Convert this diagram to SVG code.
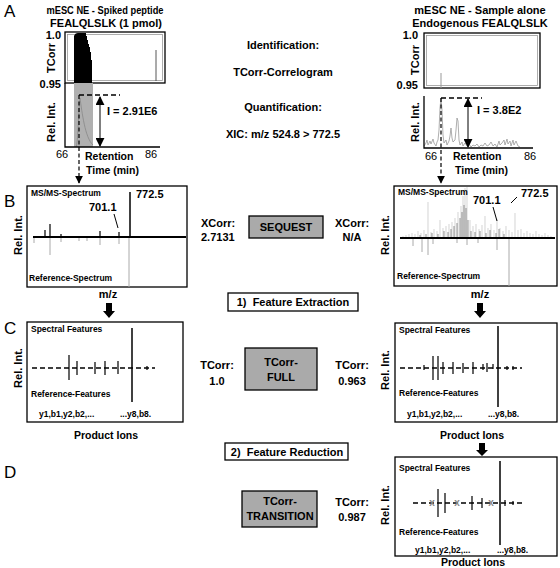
<svg xmlns="http://www.w3.org/2000/svg" width="560" height="568" viewBox="0 0 560 568">
<style>
text{font-family:"Liberation Sans",Arial,sans-serif;fill:#000}
.b11{font-size:11px;font-weight:bold}
.b10{font-size:10.5px;font-weight:bold}
.n11{font-size:11px}
.s8{font-size:8.5px;font-weight:bold}
.let{font-size:17px}
.mid{text-anchor:middle}
.end{text-anchor:end}
.pre{white-space:pre}
.box{fill:#fff;stroke:#000;stroke-width:1.3}
.gbox{fill:#aaa;stroke:#000;stroke-width:1.3}
.inner{fill:none;stroke:#999;stroke-width:0.8}
.ax{stroke:#000;stroke-width:1.3;fill:none}
.base{stroke:#000;stroke-width:2;fill:none}
.pk{stroke:#000;stroke-width:1.2;fill:none}
.ref{stroke:#aaa;stroke-width:1;fill:none}
.dash{stroke:#000;stroke-width:1.5;stroke-dasharray:5,3;fill:none}
.fdash{stroke:#000;stroke-width:1.2;stroke-dasharray:4,2.5;fill:none}
.thin{stroke:#000;stroke-width:1;fill:none}
.gx{fill:#888;font-size:10px;font-weight:bold}
</style>
<defs>
<marker id="ah" viewBox="0 0 10 10" refX="9" refY="5" markerWidth="8" markerHeight="8" markerUnits="userSpaceOnUse" orient="auto-start-reverse">
<path d="M0,0L10,5L0,10z" fill="#000"/>
</marker>
<marker id="ah2" viewBox="0 0 10 10" refX="9" refY="5" markerWidth="9" markerHeight="9" markerUnits="userSpaceOnUse" orient="auto-start-reverse">
<path d="M0,0L10,5L0,10z" fill="#000"/>
</marker>
</defs>

<g id="panel-A-left">
<text class="let" x="4" y="17">A</text>
<text class="b11 mid" x="105" y="14" textLength="117" lengthAdjust="spacingAndGlyphs">mESC NE - Spiked peptide</text>
<text class="b11 mid" x="106" y="27">FEALQLSLK (1 pmol)</text>
<rect class="box" x="65" y="32" width="100" height="51"/>
<rect class="inner" x="67.5" y="34.5" width="95" height="46"/>
<path d="M74,83L74,36Q75,33 78,33L86,33L86,36L87,36L87,40L88,40L88,44L89,44L89,47L90,47L90,52L91,52L91,60L92,60L92,83Z" fill="#000"/>
<path d="M156,50V81" stroke="#444" stroke-width="0.9"/>
<text class="b11 end" x="61" y="39">1.0</text>
<text class="b11 end" x="61" y="88">0.95</text>
<text class="b11 mid" x="55" y="58" transform="rotate(-90 55 58)">TCorr</text>
<rect x="74" y="83" width="19" height="64" fill="#b0b0b0"/>
<path d="M76,147C78,146 79,100 80,98C82,112 85,138 93,145" stroke="#888" stroke-width="0.8" fill="none"/>
<path class="ax" d="M65,83V147H160"/>
<path class="dash" d="M79,95H120"/>
<text class="b11" x="107" y="115">I = 2.91E6</text>
<text class="b11 mid" x="55" y="122" transform="rotate(-90 55 122)">Rel. Int.</text>
<text class="n11" x="56" y="158">66</text>
<text class="n11" x="145" y="158">86</text>
<text class="b10" x="85" y="160">Retention</text>
<text class="b10" x="86" y="174">Time (min)</text>
</g>

<g id="panel-A-right">
<text class="b11 mid" x="480" y="14">mESC NE - Sample alone</text>
<text class="b11 mid" x="480" y="27">Endogenous FEALQLSLK</text>
<rect class="box" x="424" y="33" width="116" height="55"/>
<rect class="inner" x="426.5" y="35.5" width="111" height="50"/>
<path d="M441,73V88" stroke="#999" stroke-width="1"/>
<text class="b11 end" x="418" y="39">1.0</text>
<text class="b11 end" x="418" y="89">0.95</text>
<text class="b11 mid" x="419" y="60" transform="rotate(-90 419 60)">TCorr</text>
<polyline fill="none" stroke="#999" stroke-width="0.8" points="424,146 426,143 427,140 428,145 430,141 431,144 433,139 434,143 436,146 437,142 438,140 439,130 440,108 441,98 442,110 443,135 444,143 446,140 447,145 449,141 450,136 451,128 452,138 453,142 455,140 456,130 457,118 458,121 459,140 460,145 462,142 463,146 465,143 467,146 469,144 471,147 473,145 475,146 477,144 479,147 481,145 483,146 485,143 487,146 489,145 491,142 493,146 495,144 497,147 499,141 500,145 502,143 504,140 505,145 507,139 508,144 510,141 511,146 513,140 514,145 516,141 518,146 520,147"/>
<path class="ax" d="M424,96V148H533"/>
<path class="dash" d="M441,98H482"/>
<text class="b11" x="477" y="114">I = 3.8E2</text>
<text class="b11 mid" x="419" y="122" transform="rotate(-90 419 122)">Rel. Int.</text>
<text class="n11" x="425" y="160">66</text>
<text class="n11" x="524" y="160">86</text>
<text class="b10" x="453" y="160">Retention</text>
<text class="b10" x="455" y="174">Time (min)</text>
</g>

<g id="center-text">
<text class="b11 mid" x="283" y="49">Identification:</text>
<text class="b11 mid" x="283" y="76">TCorr-Correlogram</text>
<text class="b11 mid" x="283" y="111">Quantification:</text>
<text class="b11 mid" x="283" y="138">XIC: m/z 524.8 &gt; 772.5</text>
</g>

<g id="panel-B-left">
<text class="let" x="4" y="207">B</text>
<rect class="box" x="27" y="186" width="160" height="101"/>
<text class="s8" x="31" y="196">MS/MS-Spectrum</text>
<text class="b11" x="136" y="198">772.5</text>
<text class="b11" x="89" y="211">701.1</text>
<path class="thin" d="M114,214L118,228"/>
<path class="ref" d="M34,237V243M50,237V255M61,237V242M79,237V241M87,237V241M100,237V245M119,237V244M129,237V287"/>
<path class="pk" d="M45,237V230M50,237V224M61,237V234M100,237V231M119,237V232"/>
<path d="M130,237V192" stroke="#000" stroke-width="1.5"/>
<path class="base" d="M33,237H186"/>
<text class="s8" x="29" y="281">Reference-Spectrum</text>
<text class="b11 mid" x="22" y="235" transform="rotate(-90 22 235)">Rel. Int.</text>
<text class="b11 mid" x="108" y="298">m/z</text>
</g>

<g id="xcorr-left">
<text class="b11" x="201" y="227">XCorr:</text>
<text class="b11" x="201" y="241">2.7131</text>
</g>

<g id="sequest">
<rect class="gbox" x="249" y="216" width="74" height="22"/>
<text class="b11 mid" x="286" y="231">SEQUEST</text>
</g>

<g id="xcorr-right">
<text class="b11 mid" x="352" y="227">XCorr:</text>
<text class="b11 mid" x="352" y="241">N/A</text>
</g>

<g id="feature-extraction">
<rect class="box" x="228" y="293" width="130" height="18"/>
<text class="b11 mid pre" x="293" y="306">1)  Feature Extraction</text>
</g>

<g id="panel-B-right">
<rect class="box" x="394" y="186" width="163" height="100"/>
<path stroke="#c2c2c2" stroke-width="0.7" fill="none" d="M403,238V236M406,238V235M409,238V234M412,238V233M415,238V234M418,238V231M421,238V233M424,238V230M428,238V202M431,238V232M434,238V229M437,238V231M440,238V220M443,238V228M446,238V226M449,238V224M452,238V222M455,238V218M458,238V212M461,238V206M463,238V196M465,238V188M467,238V187M470,238V220M473,238V226M476,238V224M479,238V229M482,238V225M485,238V216M488,238V228M491,238V224M494,238V230M497,238V219M500,238V228M503,238V231M506,238V226M509,238V230M512,238V232M515,238V213M518,238V230M521,238V229M524,238V233M527,238V231M530,238V233M533,238V234M536,238V231M539,238V234M542,238V235M545,238V233M548,238V235M551,238V236"/>
<path stroke="#666" stroke-width="0.7" fill="none" d="M420,238V235M426,238V234M432,238V233M438,238V234M444,238V231M448,238V232M451,238V229M454,238V226M457,238V223M460,238V218M462,238V212M464,238V205M466,238V208M468,238V220M471,238V231M475,238V232M480,238V231M486,238V233M490,238V230M496,238V233M499,238V229M504,238V234"/>
<path class="ref" d="M413,238V246M422,238V252M428,238V255M433,238V244M457,238V243M467,238V245M478,238V243M497,238V250M509,238V286"/>
<path class="base" d="M400,238H555"/>
<text class="s8" x="398" y="195">MS/MS-Spectrum</text>
<text class="b11" x="473" y="204">701.1</text>
<text class="b11" x="521" y="197">772.5</text>
<path class="thin" d="M493,207L497,221M511,203L517,197"/>
<text class="s8" x="397" y="279">Reference-Spectrum</text>
<text class="b11 mid" x="389" y="235" transform="rotate(-90 389 235)">Rel. Int.</text>
<text class="b11 mid" x="480" y="298">m/z</text>
</g>

<g id="panel-C-left">
<text class="let" x="4" y="334">C</text>
<rect class="box" x="27" y="322" width="156" height="100"/>
<text class="s8" x="31" y="332">Spectral Features</text>
<path class="dash" d="M32,368H155" stroke-width="1.2"/>
<path class="pk" d="M69,355V380M77,361V375M95,362V374M105,361V375M118,361V374M147,366V370"/>
<path d="M132,328V402" stroke="#000" stroke-width="1.5"/>
<text class="s8" x="31" y="397">Reference-Features</text>
<text class="s8" x="39" y="417">y1,b1,y2,b2,...</text>
<text class="s8" x="120" y="417">...y8,b8.</text>
<text class="b10 mid" x="106" y="439">Product Ions</text>
<text class="b11 mid" x="22" y="368" transform="rotate(-90 22 368)">Rel. Int.</text>
</g>

<g id="tcorr-left">
<text class="b11 mid" x="217" y="369">TCorr:</text>
<text class="b11 mid" x="217" y="385">1.0</text>
</g>

<g id="tcorr-full">
<rect class="gbox" x="245" y="348" width="72" height="42"/>
<text class="b11 mid" x="281" y="366">TCorr-</text>
<text class="b11 mid" x="281" y="381">FULL</text>
</g>

<g id="tcorr-right">
<text class="b11 mid" x="352" y="369">TCorr:</text>
<text class="b11 mid" x="352" y="385">0.963</text>
</g>

<g id="panel-C-right">
<rect class="box" x="395" y="323" width="162" height="99"/>
<text class="s8" x="399" y="333">Spectral Features</text>
<path class="dash" d="M400,368H522" stroke-width="1.2"/>
<path class="pk" d="M424,365V370M433,356V380M438,356V380M443,362V374M453,362V374M463,363V373M473,362V374M483,364V370M487,363V372M493,364V369M507,366V370M513,366V370"/>
<path d="M498,326V407" stroke="#000" stroke-width="1.5"/>
<text class="s8" x="399" y="396">Reference-Features</text>
<text class="s8" x="407" y="417">y1,b1,y2,b2,...</text>
<text class="s8" x="488" y="417">...y8,b8.</text>
<text class="b10 mid" x="472" y="439">Product Ions</text>
<text class="b11 mid" x="389" y="370" transform="rotate(-90 389 370)">Rel. Int.</text>
</g>

<g id="feature-reduction">
<rect class="box" x="225" y="443" width="123" height="17"/>
<text class="b11 mid pre" x="287" y="456">2)  Feature Reduction</text>
</g>

<g id="panel-D-left">
<text class="let" x="4" y="478">D</text>
</g>

<g id="tcorr-transition">
<rect class="gbox" x="242" y="491" width="75" height="36"/>
<text class="b11 mid" x="280" y="505">TCorr-</text>
<text class="b11 mid" x="280" y="520">TRANSITION</text>
</g>

<g id="tcorr-d">
<text class="b11 mid" x="352" y="506">TCorr:</text>
<text class="b11 mid" x="352" y="521">0.987</text>
</g>

<g id="panel-D-right">
<rect class="box" x="395" y="457" width="162" height="99"/>
<text class="s8" x="399" y="471">Spectral Features</text>
<path class="dash" d="M413,503H523" stroke-width="1.2"/>
<text class="gx mid" x="432" y="506">x</text>
<text class="gx mid" x="457" y="506">x</text>
<text class="gx mid" x="491" y="506">x</text>
<path class="pk" d="M438,489V517M445,493V513M472,496V510M482,498V508M505,500V506M513,501V505"/>
<path d="M500,461V545" stroke="#000" stroke-width="1.5"/>
<text class="s8" x="399" y="535">Reference-Features</text>
<text class="s8" x="415" y="553">y1,b1,y2,b2,...</text>
<text class="s8" x="497" y="553">...y8,b8.</text>
<text class="b10 mid" x="473" y="566">Product Ions</text>
<text class="b11 mid" x="389" y="505" transform="rotate(-90 389 505)">Rel. Int.</text>
</g>

<g id="connectors">
<path class="fdash" d="M79,95V183" marker-end="url(#ah)"/>
<path class="fdash" d="M441,98V183" marker-end="url(#ah)"/>
<path class="thin" stroke-width="1.3" d="M100,97V146" marker-start="url(#ah2)" marker-end="url(#ah2)"/>
<path class="thin" stroke-width="1.3" d="M468,99V147" marker-start="url(#ah2)" marker-end="url(#ah2)"/>
<path d="M106,303H112V311H115L109,318L103,311H106Z" fill="#000"/>
<path d="M477,303H483V311H486L480,318L474,311H477Z" fill="#000"/>
<path d="M479,443H485V450H488L482,456L476,450H479Z" fill="#000"/>
</g>
</svg>
